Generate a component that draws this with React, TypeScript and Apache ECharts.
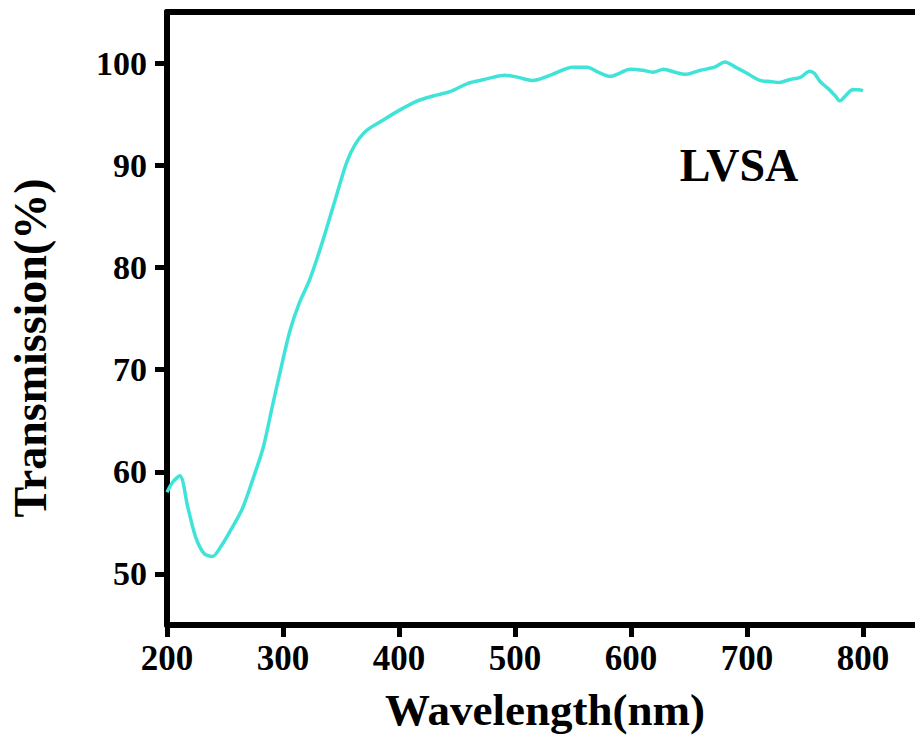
import React, { useEffect, useRef } from "react";
import * as echarts from "echarts";

const wavelengths = [
  200, 205, 211, 218, 225, 232, 239, 246, 255, 265, 275, 283, 291, 299, 306, 314, 323, 334, 346, 355,
  362, 372, 386, 399, 416, 430, 444, 459, 470, 481, 491, 503, 515, 530, 550, 562, 572, 582, 590, 599,
  610, 619, 628, 638, 647, 660, 672, 681, 690, 700, 711, 720, 728, 737, 746, 754, 758, 763, 770, 776,
  780, 785, 791, 796, 800,
];
const transmission = [
  58.0, 59.0, 59.6, 56.5, 53.5, 52.0, 51.7, 52.6, 54.3, 56.4, 59.6, 62.4, 66.5, 70.5, 73.8, 76.5, 78.8, 82.5, 87.0, 90.3,
  92.0, 93.4, 94.4, 95.3, 96.3, 96.8, 97.2, 98.0, 98.3, 98.6, 98.8, 98.6, 98.3, 98.8, 99.6, 99.6, 99.1, 98.7, 99.0, 99.4,
  99.3, 99.1, 99.4, 99.1, 98.9, 99.3, 99.6, 100.1, 99.6, 99.0, 98.3, 98.2, 98.1, 98.4, 98.6, 99.2, 99.0, 98.2, 97.5, 96.8,
  96.3, 96.8, 97.4, 97.4, 97.3,
];
const xTicks = [200, 300, 400, 500, 600, 700, 800];
const yTicks = [50, 60, 70, 80, 90, 100];
// evenly spaced tick slots spanning the full axis ranges (used only for tick marks)
const xTickSlots = ["200", "300", "400", "500", "600", "700", "800", "900"];
const yTickSlots = ["45", "50", "55", "60", "65", "70", "75", "80", "85", "90", "95", "100", "105"];
const xTitle = "Wavelength(nm)";
const yTitle = "Transmission(%)";
const sampleLabel = "LVSA";

const X_MIN = 200;
const X_MAX = 900;
const Y_MIN = 45;
const Y_MAX = 105;

const FONT = '"Liberation Serif", "Times New Roman", serif';
const AXIS_W = 6;
const TICK_LEN = 12;
const TICK_W = 5;

export default function App() {
  const ref = useRef<HTMLDivElement>(null);
  useEffect(() => {
    if (!ref.current) return;
    const chart = echarts.init(ref.current, undefined, { renderer: "svg" });
    const data = wavelengths.map((w, i) => [w, transmission[i]]);
    chart.setOption({
      animation: false,
      backgroundColor: "#ffffff",
      grid: { left: 167, top: 12, right: 1, bottom: 131, containLabel: false },
      xAxis: [
        {
          type: "value",
          min: X_MIN,
          max: X_MAX,
          interval: 100,
          position: "bottom",
          splitLine: { show: false },
          axisLine: { show: true, onZero: false, lineStyle: { color: "#000", width: AXIS_W } },
          axisTick: { show: false },
          axisLabel: {
            show: true,
            margin: 16,
            customValues: xTicks,
            color: "#000",
            fontFamily: FONT,
            fontWeight: "bold",
            fontSize: 35,
          },
        },
        {
          type: "value",
          min: X_MIN,
          max: X_MAX,
          position: "top",
          splitLine: { show: false },
          axisLine: { show: true, onZero: false, lineStyle: { color: "#000", width: AXIS_W } },
          axisTick: { show: false },
          axisLabel: { show: false },
        },
        {
          type: "category",
          data: xTickSlots,
          boundaryGap: false,
          position: "bottom",
          offset: 0,
          splitLine: { show: false },
          axisLine: { show: false, onZero: false },
          axisLabel: { show: false },
          axisTick: {
            show: true,
            inside: false,
            length: TICK_LEN,
            interval: (index: number, value: string) => xTicks.indexOf(Number(value)) >= 0,
            lineStyle: { color: "#000", width: TICK_W },
          },
        },
      ],
      yAxis: [
        {
          type: "value",
          min: Y_MIN,
          max: Y_MAX,
          position: "left",
          splitLine: { show: false },
          axisLine: { show: true, onZero: false, lineStyle: { color: "#000", width: AXIS_W } },
          axisTick: { show: false },
          axisLabel: {
            show: true,
            margin: 20,
            customValues: yTicks,
            color: "#000",
            fontFamily: FONT,
            fontWeight: "bold",
            fontSize: 34,
          },
        },
        {
          type: "category",
          data: yTickSlots,
          boundaryGap: false,
          position: "left",
          offset: 0,
          splitLine: { show: false },
          axisLine: { show: false, onZero: false },
          axisLabel: { show: false },
          axisTick: {
            show: true,
            inside: false,
            length: TICK_LEN,
            interval: (index: number, value: string) => yTicks.indexOf(Number(value)) >= 0,
            lineStyle: { color: "#000", width: TICK_W },
          },
        },
      ],
      series: [
        {
          type: "line",
          data,
          xAxisIndex: 0,
          yAxisIndex: 0,
          showSymbol: false,
          smooth: 0.3,
          lineStyle: { color: "#3fe3d8", width: 3.5 },
          itemStyle: { color: "#3fe3d8" },
          z: 2,
        },
      ],
      graphic: [
        {
          type: "text",
          id: "xtitle",
          x: 545,
          y: 710,
          style: {
            text: xTitle,
            fill: "#000",
            font: `bold 45px ${FONT}`,
            textAlign: "center",
            textVerticalAlign: "middle",
          },
        },
        {
          type: "text",
          id: "ytitle",
          x: 30,
          y: 348,
          rotation: Math.PI / 2,
          style: {
            text: yTitle,
            fill: "#000",
            font: `bold 46px ${FONT}`,
            textAlign: "center",
            textVerticalAlign: "middle",
          },
        },
        {
          type: "text",
          id: "sample",
          x: 739,
          y: 165,
          style: {
            text: sampleLabel,
            fill: "#000",
            font: `bold 46px ${FONT}`,
            textAlign: "center",
            textVerticalAlign: "middle",
          },
        },
      ],
    });
    return () => chart.dispose();
  }, []);
  return (
    <div style={{ position: "fixed", left: 0, top: 0, width: 915, height: 756, overflow: "hidden", background: "#fff" }}>
      <div ref={ref} style={{ width: 980, height: 756 }} />
    </div>
  );
}
